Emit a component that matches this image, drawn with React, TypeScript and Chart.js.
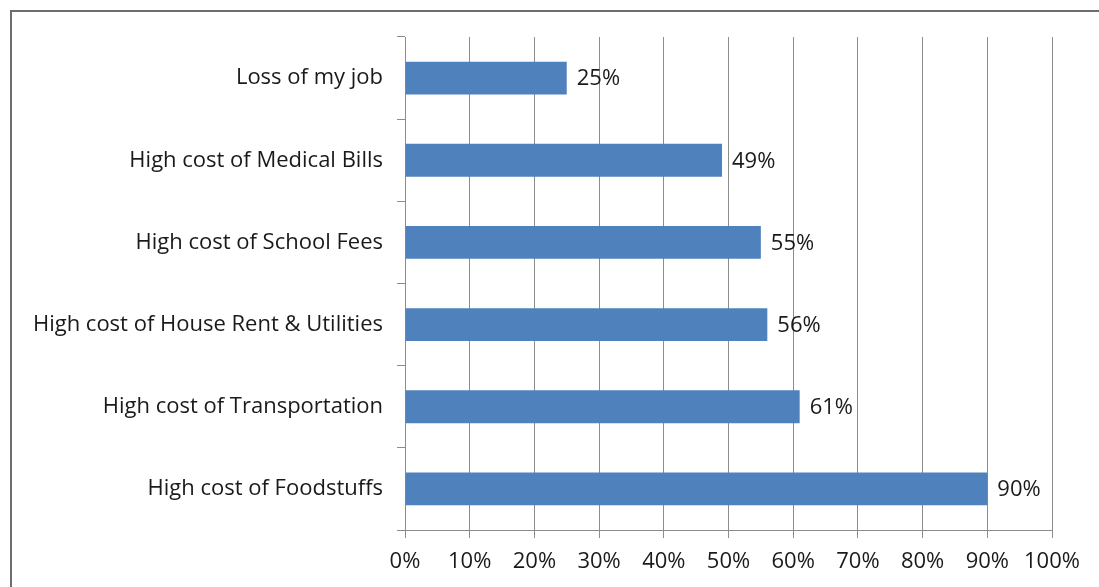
import React, { useEffect, useRef } from "react";
import { Chart, registerables } from "chart.js";

Chart.register(...registerables);

const categories = [
  "Loss of my job",
  "High cost of Medical Bills",
  "High cost of School Fees",
  "High cost of House Rent & Utilities",
  "High cost of Transportation",
  "High cost of Foodstuffs",
];
const values = [25, 49, 55, 56, 61, 90];
const xTicks = [0, 10, 20, 30, 40, 50, 60, 70, 80, 90, 100];

const FONT = "'Open Sans', sans-serif";
const SIZE = 22;

const labelPlugin = {
  id: "valueLabels",
  afterDatasetsDraw(chart: any) {
    const ctx = chart.ctx;
    const meta = chart.getDatasetMeta(0);
    ctx.save();
    ctx.font = `${SIZE}px ${FONT}`;
    ctx.fillStyle = "#1a1a1a";
    ctx.textAlign = "left";
    ctx.textBaseline = "middle";
    meta.data.forEach((bar: any, i: number) => {
      ctx.fillText(values[i] + "%", bar.x + 10, bar.y + 1);
    });
    ctx.restore();
  },
};

const framePlugin = {
  id: "frame",
  beforeDraw(chart: any) {
    const ctx = chart.ctx;
    ctx.save();
    ctx.fillStyle = "#ffffff";
    ctx.fillRect(0, 0, chart.width, chart.height);
    ctx.strokeStyle = "#6e6e6e";
    ctx.lineWidth = 2;
    ctx.beginPath();
    ctx.moveTo(11, chart.height);
    ctx.lineTo(11, 11);
    ctx.lineTo(chart.width, 11);
    ctx.stroke();
    ctx.restore();
  },
};

export default function App() {
  const ref = useRef<HTMLCanvasElement | null>(null);
  useEffect(() => {
    if (!ref.current) return;
    const chart = new Chart(ref.current, {
      type: "bar",
      data: {
        labels: categories,
        datasets: [
          {
            data: values,
            backgroundColor: "#4F81BD",
            borderWidth: 0,
            barPercentage: 0.4,
            categoryPercentage: 1,
          },
        ],
      },
      plugins: [framePlugin, labelPlugin],
      options: {
        indexAxis: "y",
        animation: false,
        responsive: false,
        maintainAspectRatio: false,
        layout: { padding: { left: 0, top: 37, right: 47, bottom: 0 } },
        plugins: { legend: { display: false }, tooltip: { enabled: false } },
        scales: {
          x: {
            min: 0,
            max: 100,
            afterBuildTicks(scale: any) {
              scale.ticks = xTicks.map((v) => ({ value: v }));
            },
            afterFit(scale: any) {
              scale.height = 57;
            },
            ticks: {
              callback: (v: any) => v + "%",
              font: { family: FONT, size: SIZE },
              color: "#1a1a1a",
              padding: 11,
              maxRotation: 0,
            },
            grid: { color: "#8c8c8c", lineWidth: 1, tickLength: 8, drawTicks: true },
            border: { color: "#8c8c8c", width: 1 },
          },
          y: {
            offset: true,
            afterFit(scale: any) {
              scale.width = 405;
            },
            ticks: {
              font: { family: FONT, size: SIZE },
              color: "#1a1a1a",
              padding: 14,
            },
            grid: {
              offset: true,
              drawOnChartArea: false,
              color: "#8c8c8c",
              tickLength: 8,
            },
            border: { color: "#8c8c8c", width: 1 },
          },
        },
      },
    });
    return () => chart.destroy();
  }, []);
  return (
    <div style={{ position: "fixed", left: 0, top: 0, width: 1099, height: 587, background: "#fff" }}>
      <canvas ref={ref} width={1099} height={587} style={{ display: "block" }} />
    </div>
  );
}
